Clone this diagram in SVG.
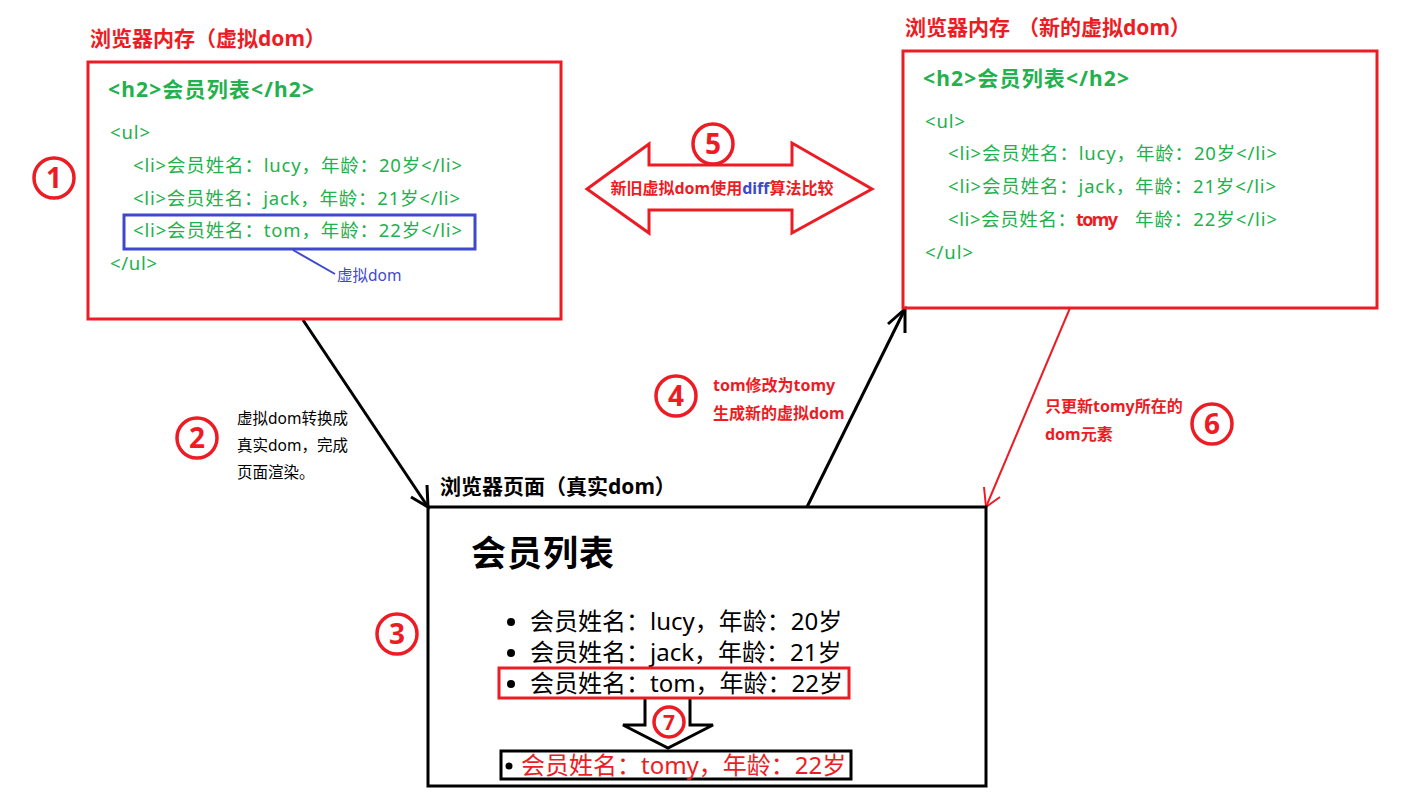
<svg xmlns="http://www.w3.org/2000/svg" width="1423" height="806" viewBox="0 0 1423 806">
<style>
text{font-family:"Noto Sans","Noto Sans CJK SC",sans-serif}
.red{fill:#ed1c24}
.grn{fill:#22b14c}
.blu{fill:#3f48cc}
.blk{fill:#000}
.b{font-weight:bold}
.title{font-size:21px;font-weight:bold}
.h2{font-size:21px;font-weight:bold;fill:#22b14c}
.code{font-size:18.5px;fill:#22b14c}
.lst{font-size:24px}
.lbl{font-size:15.5px}
.rl{font-size:16px;font-weight:bold;fill:#ed1c24}
.boxR{fill:none;stroke:#ed1c24;stroke-width:3}
.boxK{fill:none;stroke:#000;stroke-width:3}
.num circle{fill:#fff;stroke:#ed1c24;stroke-width:3.5}
.num text{font-size:28px;font-weight:bold;fill:#ed1c24;text-anchor:middle}
.arrK{fill:none;stroke:#000;stroke-width:3}
.arrR{fill:none;stroke:#ed1c24;stroke-width:2}
</style>
<rect width="1423" height="806" fill="#fff"/>

<g id="connectors">
  <g id="c-render">
    <line class="arrK" x1="303" y1="320" x2="428" y2="507"/>
    <polyline class="arrK" points="411,497 428,507 427,485"/>
  </g>
  <g id="c-modify">
    <line class="arrK" x1="807" y1="507" x2="905" y2="309"/>
    <polyline class="arrK" points="888,324 905,309 905,333"/>
  </g>
  <g id="c-update">
    <line class="arrR" x1="1070" y1="308" x2="986" y2="507"/>
    <polyline class="arrR" points="984,487 986,507 1000,497"/>
  </g>
  <g id="c-diff">
    <polygon points="587,189 649,144 649,165 792,165 792,143 872,189 792,233 792,210 649,210 649,233" fill="#fff" stroke="#ed1c24" stroke-width="3"/>
    <text x="722" y="194" text-anchor="middle" class="b red" font-size="16px">新旧虚拟dom使用<tspan class="blu">diff</tspan>算法比较</text>
  </g>
  <g id="c-replace">
    <polyline points="645,698 645,725 623,725 668,748 713,725 690,725 690,698" fill="#fff" stroke="#000" stroke-width="3"/>
  </g>
  <line x1="293" y1="250" x2="335" y2="274" stroke="#3f48cc" stroke-width="2"/>
</g>

<g id="node-old-vdom">
  <text x="90" y="46" class="title red">浏览器内存（虚拟dom）</text>
  <rect class="boxR" x="88" y="62" width="473" height="257"/>
  <text x="108" y="97" class="h2" textLength="206">&lt;h2&gt;会员列表&lt;/h2&gt;</text>
  <text x="110" y="139" class="code" textLength="40">&lt;ul&gt;</text>
  <text x="133" y="172" class="code" textLength="329">&lt;li&gt;会员姓名：lucy，年龄：20岁&lt;/li&gt;</text>
  <text x="133" y="205" class="code" textLength="327">&lt;li&gt;会员姓名：jack，年龄：21岁&lt;/li&gt;</text>
  <text x="133" y="237" class="code" textLength="329">&lt;li&gt;会员姓名：tom，年龄：22岁&lt;/li&gt;</text>
  <rect x="124" y="215" width="351" height="34" fill="none" stroke="#3f48cc" stroke-width="3"/>
  <text x="110" y="270" class="code" textLength="47">&lt;/ul&gt;</text>
  <text x="337" y="281" class="blu" font-size="15.5px">虚拟dom</text>
</g>

<g id="node-new-vdom">
  <text x="905" y="35" class="title red">浏览器内存</text>
  <text x="1018" y="35" class="title red" font-size="20.5px">（新的虚拟dom）</text>
  <rect class="boxR" x="903" y="51" width="474" height="257"/>
  <text x="923" y="86" class="h2" textLength="206">&lt;h2&gt;会员列表&lt;/h2&gt;</text>
  <text x="925" y="128" class="code" textLength="40">&lt;ul&gt;</text>
  <text x="948" y="160" class="code" textLength="329">&lt;li&gt;会员姓名：lucy，年龄：20岁&lt;/li&gt;</text>
  <text x="948" y="193" class="code" textLength="328">&lt;li&gt;会员姓名：jack，年龄：21岁&lt;/li&gt;</text>
  <text x="948" y="226" class="code" textLength="128">&lt;li&gt;会员姓名：</text>
  <text x="1076" y="226" font-size="18px" font-weight="bold" fill="#ed1c24" textLength="42">tomy</text>
  <text x="1135" y="226" class="code" textLength="142">年龄：22岁&lt;/li&gt;</text>
  <text x="925" y="259" class="code" textLength="48">&lt;/ul&gt;</text>
</g>

<g id="node-real-dom">
  <text x="440" y="494" class="title blk">浏览器页面（真实dom）</text>
  <rect class="boxK" x="428" y="507" width="558" height="279"/>
  <text x="471" y="566" class="blk b" font-size="35px" textLength="143">会员列表</text>
  <circle cx="511" cy="622" r="4"/>
  <text x="530" y="630" class="lst blk">会员姓名：lucy，年龄：20岁</text>
  <circle cx="511" cy="653" r="4"/>
  <text x="530" y="661" class="lst blk">会员姓名：jack，年龄：21岁</text>
  <circle cx="511" cy="684" r="4"/>
  <text x="530" y="692" class="lst blk">会员姓名：tom，年龄：22岁</text>
  <rect x="499" y="668" width="350" height="30" fill="none" stroke="#ed1c24" stroke-width="3"/>
  <rect x="501" y="751" width="350" height="28" fill="none" stroke="#000" stroke-width="3"/>
  <circle cx="509" cy="766" r="3.5"/>
  <text x="521" y="774" class="lst red">会员姓名：tomy，年龄：22岁</text>
</g>

<g id="labels">
  <text x="237" y="424" class="lbl blk">虚拟dom转换成</text>
  <text x="237" y="451" class="lbl blk">真实dom，完成</text>
  <text x="237" y="478" class="lbl blk">页面渲染。</text>
  <text x="713" y="391" class="rl">tom修改为tomy</text>
  <text x="713" y="419" class="rl">生成新的虚拟dom</text>
  <text x="1045" y="412" class="rl">只更新tomy所在的</text>
  <text x="1045" y="440" class="rl">dom元素</text>
</g>

<g id="step-numbers" class="num">
  <g id="n1"><circle cx="54" cy="178" r="20"/><text x="54" y="188">1</text></g>
  <g id="n2"><circle cx="197" cy="438" r="20"/><text x="197" y="448">2</text></g>
  <g id="n3"><circle cx="397" cy="634" r="20"/><text x="397" y="644">3</text></g>
  <g id="n4"><circle cx="676" cy="396" r="20"/><text x="676" y="406">4</text></g>
  <g id="n5"><circle cx="713" cy="144" r="20"/><text x="713" y="154">5</text></g>
  <g id="n6"><circle cx="1212" cy="424" r="20"/><text x="1212" y="434">6</text></g>
  <g id="n7"><circle cx="669" cy="722" r="15"/><text x="669" y="730" style="font-size:21px">7</text></g>
</g>
</svg>
